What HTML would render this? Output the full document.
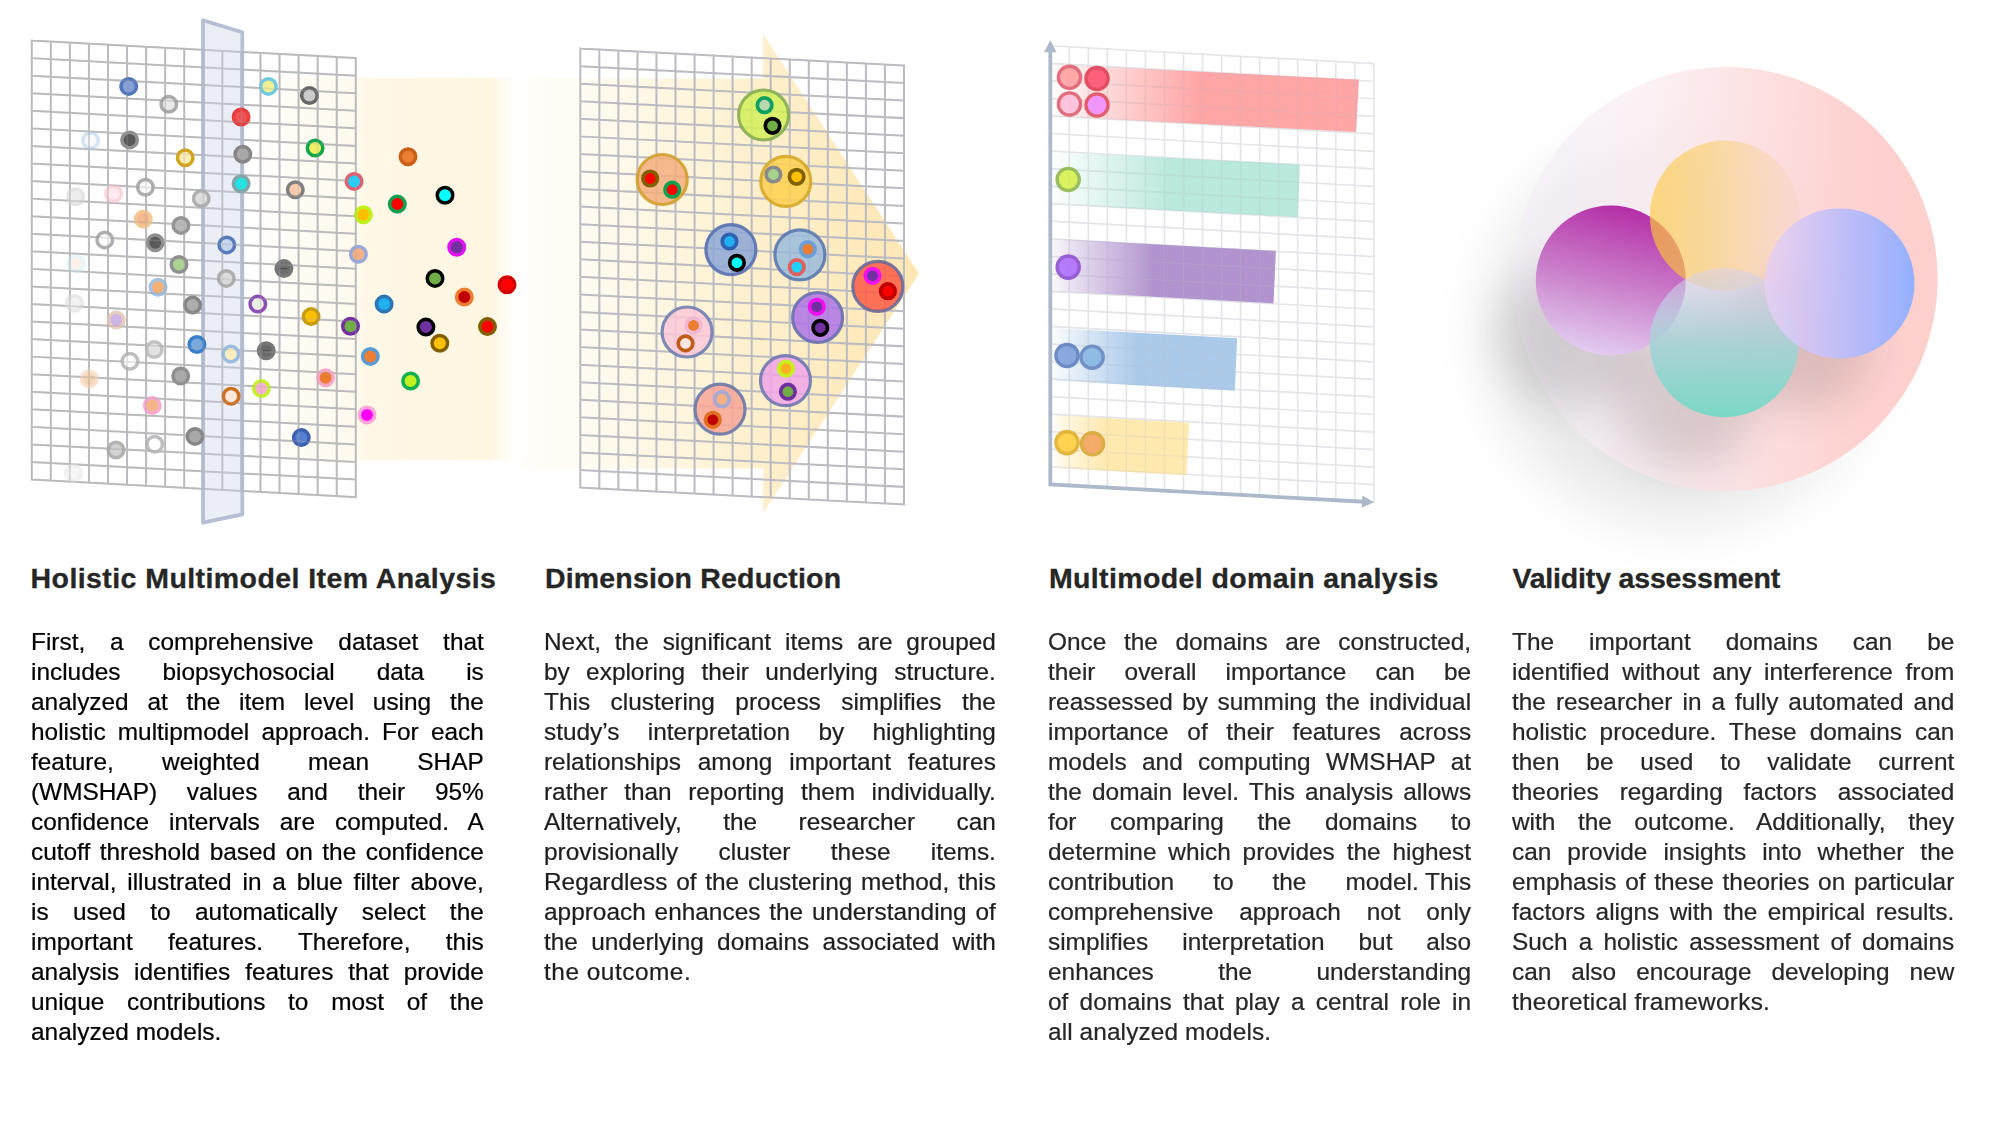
<!DOCTYPE html>
<html><head><meta charset="utf-8"><title>Holistic multimodel analysis</title>
<style>
html,body{margin:0;padding:0;background:#fff}
body{width:1992px;height:1131px;position:relative;overflow:hidden;font-family:"Liberation Sans",sans-serif}
svg{position:absolute;left:0;top:0}
.ln{-webkit-text-stroke:0.22px currentColor;position:absolute;height:30px;line-height:30px;font-size:23.7px;white-space:nowrap;text-align:justify;text-align-last:justify;transform:scaleX(1.03);transform-origin:0 0;overflow:visible}
.last{text-align:left;text-align-last:left}
.nb{display:inline-block;text-align:left;text-align-last:left}
.hd{-webkit-text-stroke:0.3px currentColor;position:absolute;height:40px;line-height:40px;font-size:28.5px;font-weight:bold;color:#262626;white-space:nowrap}
</style></head><body>
<svg width="1992" height="1131" viewBox="0 0 1992 1131">
<defs>
<linearGradient id="band1" gradientUnits="userSpaceOnUse" x1="242" y1="0" x2="518" y2="0">
 <stop offset="0" stop-color="#fff3d6" stop-opacity="0"/>
 <stop offset="0.08" stop-color="#fff3d6" stop-opacity="0.05"/>
 <stop offset="0.22" stop-color="#fff3d6" stop-opacity="0.3"/>
 <stop offset="0.41" stop-color="#fff3d6" stop-opacity="0.42"/>
 <stop offset="0.45" stop-color="#fff3d6" stop-opacity="0.6"/>
 <stop offset="0.9" stop-color="#fff2d2" stop-opacity="0.66"/>
 <stop offset="0.96" stop-color="#fff3d6" stop-opacity="0.25"/>
 <stop offset="1" stop-color="#fff3d6" stop-opacity="0"/>
</linearGradient>
<linearGradient id="band2" gradientUnits="userSpaceOnUse" x1="516" y1="0" x2="919" y2="0">
 <stop offset="0" stop-color="#ffefc8" stop-opacity="0"/>
 <stop offset="0.035" stop-color="#ffefc8" stop-opacity="0.13"/>
 <stop offset="0.16" stop-color="#ffefc8" stop-opacity="0.22"/>
 <stop offset="0.3" stop-color="#ffeec4" stop-opacity="0.4"/>
 <stop offset="0.58" stop-color="#ffe8b4" stop-opacity="0.66"/>
 <stop offset="1" stop-color="#ffe0a0" stop-opacity="0.8"/>
</linearGradient>
<linearGradient id="bar1" gradientUnits="userSpaceOnUse" x1="1050.3" y1="0" x2="1359" y2="0"><stop offset="0" stop-color="#ff8f8f" stop-opacity="0.02"/><stop offset="0.1" stop-color="#ff8f8f" stop-opacity="0.2"/><stop offset="0.48" stop-color="#ff8f8f" stop-opacity="0.8"/><stop offset="1" stop-color="#ff8f8f" stop-opacity="0.8"/></linearGradient><linearGradient id="bar2" gradientUnits="userSpaceOnUse" x1="1050.3" y1="0" x2="1299.8" y2="0"><stop offset="0" stop-color="#9fe0d0" stop-opacity="0.02"/><stop offset="0.1" stop-color="#9fe0d0" stop-opacity="0.16"/><stop offset="0.48" stop-color="#9fe0d0" stop-opacity="0.72"/><stop offset="1" stop-color="#9fe0d0" stop-opacity="0.72"/></linearGradient><linearGradient id="bar3" gradientUnits="userSpaceOnUse" x1="1050.3" y1="0" x2="1275.9" y2="0"><stop offset="0" stop-color="#a07cc4" stop-opacity="0.03"/><stop offset="0.08" stop-color="#a07cc4" stop-opacity="0.2"/><stop offset="0.46" stop-color="#a07cc4" stop-opacity="0.82"/><stop offset="1" stop-color="#a07cc4" stop-opacity="0.82"/></linearGradient><linearGradient id="bar4" gradientUnits="userSpaceOnUse" x1="1050.3" y1="0" x2="1237.2" y2="0"><stop offset="0" stop-color="#9cc0e6" stop-opacity="0.03"/><stop offset="0.1" stop-color="#9cc0e6" stop-opacity="0.22"/><stop offset="0.46" stop-color="#9cc0e6" stop-opacity="0.85"/><stop offset="1" stop-color="#9cc0e6" stop-opacity="0.85"/></linearGradient><linearGradient id="bar5" gradientUnits="userSpaceOnUse" x1="1050.3" y1="0" x2="1189.2" y2="0"><stop offset="0" stop-color="#ffe49c" stop-opacity="0"/><stop offset="0.1" stop-color="#ffe49c" stop-opacity="0.3"/><stop offset="0.4" stop-color="#ffe49c" stop-opacity="0.8"/><stop offset="1" stop-color="#ffe49c" stop-opacity="0.8"/></linearGradient>
<filter id="bl40" x="-50%" y="-50%" width="200%" height="200%"><feGaussianBlur stdDeviation="30"/></filter>
<filter id="bl25" x="-60%" y="-60%" width="220%" height="220%"><feGaussianBlur stdDeviation="21"/></filter>
<linearGradient id="big" x1="0" y1="0" x2="1" y2="0">
 <stop offset="0" stop-color="#f2edf8" stop-opacity="0.55"/>
 <stop offset="0.3" stop-color="#faedf2" stop-opacity="0.74"/>
 <stop offset="0.6" stop-color="#fddcdc" stop-opacity="0.9"/>
 <stop offset="0.8" stop-color="#fdd2d0" stop-opacity="1"/>
 <stop offset="1" stop-color="#fdcfcd" stop-opacity="1"/>
</linearGradient>
<linearGradient id="cpurple" x1="0.62" y1="0" x2="0.38" y2="1">
 <stop offset="0" stop-color="#b42ca6"/>
 <stop offset="0.5" stop-color="#c878c8" stop-opacity="0.96"/>
 <stop offset="1" stop-color="#e4cff4" stop-opacity="0.92"/>
</linearGradient>
<linearGradient id="cyellow" x1="0" y1="0" x2="1" y2="0">
 <stop offset="0" stop-color="#fdd060" stop-opacity="0.78"/>
 <stop offset="0.45" stop-color="#f9d590" stop-opacity="0.8"/>
 <stop offset="1" stop-color="#f8d6cc" stop-opacity="0.55"/>
</linearGradient>
<linearGradient id="cblue" x1="0" y1="0" x2="1" y2="0">
 <stop offset="0" stop-color="#e8d0f4" stop-opacity="0.8"/>
 <stop offset="0.5" stop-color="#c0bef8" stop-opacity="0.97"/>
 <stop offset="1" stop-color="#94b0ff"/>
</linearGradient>
<linearGradient id="cteal" x1="0" y1="0" x2="0" y2="1">
 <stop offset="0" stop-color="#d6d0ee" stop-opacity="0.5"/>
 <stop offset="0.5" stop-color="#a6d2d6" stop-opacity="0.9"/>
 <stop offset="1" stop-color="#7ad8c5"/>
</linearGradient>
<clipPath id="cpP"><circle cx="1610.8" cy="280.5" r="75"/></clipPath></defs>
<rect x="242" y="77.7" width="276" height="382.5" fill="url(#band1)"/>
<path d="M31.75 40.60V479.60M50.81 41.63V480.63M69.87 42.66V481.66M88.93 43.69V482.69M107.99 44.72V483.72M127.05 45.75V484.75M146.11 46.78V485.78M165.17 47.80V486.80M184.23 48.83V487.83M203.29 49.86V488.86M222.35 50.89V489.89M241.41 51.92V490.92M260.47 52.95V491.95M279.53 53.98V492.98M298.59 55.01V494.01M317.65 56.04V495.04M336.71 57.07V496.07M355.77 58.10V497.10M31.75 40.60L355.77 58.10M31.75 58.16L355.77 75.66M31.75 75.72L355.77 93.22M31.75 93.28L355.77 110.78M31.75 110.84L355.77 128.34M31.75 128.40L355.77 145.90M31.75 145.96L355.77 163.46M31.75 163.52L355.77 181.02M31.75 181.08L355.77 198.58M31.75 198.64L355.77 216.14M31.75 216.20L355.77 233.70M31.75 233.76L355.77 251.26M31.75 251.32L355.77 268.82M31.75 268.88L355.77 286.38M31.75 286.44L355.77 303.94M31.75 304.00L355.77 321.50M31.75 321.56L355.77 339.06M31.75 339.12L355.77 356.62M31.75 356.68L355.77 374.18M31.75 374.24L355.77 391.74M31.75 391.80L355.77 409.30M31.75 409.36L355.77 426.86M31.75 426.92L355.77 444.42M31.75 444.48L355.77 461.98M31.75 462.04L355.77 479.54M31.75 479.60L355.77 497.10" fill="none" stroke="#c1c1c4" stroke-width="2.0" stroke-linecap="square" opacity="1"/>
<path d="M203 20.2L242.3 32.2V514.4L203 522.6Z" fill="#d2dae8" fill-opacity="0.45" stroke="#b4bfd4" stroke-width="3.7" stroke-linejoin="round"/>
<circle cx="128.7" cy="86.4" r="7.75" fill="#7f9ad8" stroke="#4a6fb8" stroke-width="3.5" opacity="0.95"/>
<circle cx="168.8" cy="104.3" r="7.75" fill="#e6e6e6" stroke="#9c9c9c" stroke-width="3.5" opacity="0.85"/>
<circle cx="241.1" cy="117.0" r="7.75" fill="#f24a4a" stroke="#e63535" stroke-width="3.5" opacity="0.95"/>
<circle cx="90.5" cy="140.4" r="7.75" fill="#f2f6fb" stroke="#b9d0ea" stroke-width="3.5" opacity="0.6"/>
<circle cx="129.6" cy="139.9" r="7.75" fill="#505050" stroke="#8a8a8a" stroke-width="3.5" opacity="0.95"/>
<circle cx="185.2" cy="157.8" r="7.75" fill="#fdeeb4" stroke="#d1a51c" stroke-width="3.5"/>
<circle cx="242.8" cy="154.2" r="7.75" fill="#a8a8a8" stroke="#858585" stroke-width="3.5"/>
<circle cx="241.1" cy="183.8" r="7.75" fill="#1fe6e6" stroke="#7fa5a8" stroke-width="3.5"/>
<circle cx="145.4" cy="187.2" r="7.75" fill="#ffffff" stroke="#a6a6a6" stroke-width="3.5" opacity="0.9"/>
<circle cx="75.7" cy="196.7" r="7.75" fill="#e6e6e6" stroke="#d9d9d9" stroke-width="3.5" opacity="0.7"/>
<circle cx="113.6" cy="193.8" r="7.75" fill="#fde6ea" stroke="#f7ccd2" stroke-width="3.5" opacity="0.8"/>
<circle cx="201.2" cy="198.6" r="7.75" fill="#dcdcdc" stroke="#ababab" stroke-width="3.5" opacity="0.95"/>
<circle cx="143.2" cy="219.1" r="7.75" fill="#f4b183" stroke="#f4c48c" stroke-width="3.5" opacity="0.9"/>
<circle cx="181.0" cy="225.4" r="7.75" fill="#b8b8b8" stroke="#949494" stroke-width="3.5"/>
<circle cx="104.8" cy="239.9" r="7.75" fill="#ffffff" stroke="#a6a6a6" stroke-width="3.5" opacity="0.9"/>
<circle cx="155.2" cy="242.8" r="7.75" fill="#525252" stroke="#8a8a8a" stroke-width="3.5" opacity="0.95"/>
<circle cx="226.8" cy="244.9" r="7.75" fill="#c7d6ee" stroke="#5779bd" stroke-width="3.5"/>
<circle cx="179.0" cy="264.5" r="7.75" fill="#a9d18e" stroke="#8a8a8a" stroke-width="3.5" opacity="0.95"/>
<circle cx="76.4" cy="263.8" r="7.75" fill="#fde7dc" stroke="#d3eef4" stroke-width="3.5" opacity="0.55"/>
<circle cx="226.3" cy="278.4" r="7.75" fill="#dcdcdc" stroke="#ababab" stroke-width="3.5" opacity="0.95"/>
<circle cx="158.0" cy="287.2" r="7.75" fill="#f4a868" stroke="#9bbce0" stroke-width="3.5" opacity="0.9"/>
<circle cx="192.6" cy="305.1" r="7.75" fill="#adadad" stroke="#858585" stroke-width="3.5"/>
<circle cx="257.8" cy="304.1" r="7.75" fill="#e9f0e2" stroke="#8c4db6" stroke-width="3.5"/>
<circle cx="74.5" cy="303.4" r="7.75" fill="#ededed" stroke="#e0e0e0" stroke-width="3.5" opacity="0.7"/>
<circle cx="116.3" cy="320.1" r="7.75" fill="#c4a7e0" stroke="#e6c6b6" stroke-width="3.5" opacity="0.85"/>
<circle cx="196.9" cy="344.5" r="7.75" fill="#7aa8dc" stroke="#3a7fcb" stroke-width="3.5"/>
<circle cx="154.2" cy="349.5" r="7.75" fill="#e0e0e0" stroke="#bdbdbd" stroke-width="3.5" opacity="0.9"/>
<circle cx="230.8" cy="354.0" r="7.75" fill="#fdeec2" stroke="#9bbcde" stroke-width="3.5"/>
<circle cx="266.2" cy="350.7" r="7.75" fill="#6a6a6a" stroke="#777777" stroke-width="3.5"/>
<circle cx="129.9" cy="361.2" r="7.75" fill="#ffffff" stroke="#b8b8b8" stroke-width="3.5" opacity="0.9"/>
<circle cx="180.7" cy="376.0" r="7.75" fill="#aaaaaa" stroke="#8f8f8f" stroke-width="3.5"/>
<circle cx="89.3" cy="378.9" r="7.75" fill="#f5c8a0" stroke="#f7d8bc" stroke-width="3.5" opacity="0.75"/>
<circle cx="261.4" cy="388.6" r="7.75" fill="#f8b0d0" stroke="#c6ef2e" stroke-width="3.5"/>
<circle cx="231.1" cy="396.3" r="7.75" fill="#fde8dc" stroke="#cf6f20" stroke-width="3.5"/>
<circle cx="152.3" cy="405.6" r="7.75" fill="#f4b183" stroke="#f8a6ce" stroke-width="3.5" opacity="0.95"/>
<circle cx="195.0" cy="436.4" r="7.75" fill="#a8a8a8" stroke="#868686" stroke-width="3.5"/>
<circle cx="154.7" cy="444.3" r="7.75" fill="#ffffff" stroke="#b8b8b8" stroke-width="3.5" opacity="0.9"/>
<circle cx="116.0" cy="450.0" r="7.75" fill="#cacaca" stroke="#a6a6a6" stroke-width="3.5" opacity="0.85"/>
<circle cx="73.5" cy="472.9" r="7.75" fill="#f3f3f3" stroke="#ebebeb" stroke-width="3.5" opacity="0.7"/>
<circle cx="268.4" cy="86.4" r="7.75" fill="#eff092" stroke="#6fcadf" stroke-width="3.5"/>
<circle cx="309.4" cy="95.5" r="7.75" fill="#cccccc" stroke="#666666" stroke-width="3.5"/>
<circle cx="315.1" cy="148.0" r="7.75" fill="#f0f062" stroke="#10a64e" stroke-width="3.5"/>
<circle cx="408.0" cy="156.8" r="7.75" fill="#ed7d31" stroke="#c8601a" stroke-width="3.5"/>
<circle cx="354.1" cy="181.4" r="7.75" fill="#20d0ff" stroke="#e06070" stroke-width="3.5"/>
<circle cx="295.3" cy="189.8" r="7.75" fill="#f8cbad" stroke="#7f7f7f" stroke-width="3.5"/>
<circle cx="445.0" cy="195.3" r="7.75" fill="#00ffff" stroke="#000000" stroke-width="3.5"/>
<circle cx="397.3" cy="204.1" r="7.75" fill="#ff0000" stroke="#10a050" stroke-width="3.5"/>
<circle cx="363.4" cy="214.8" r="7.75" fill="#ffc000" stroke="#c0f020" stroke-width="3.5"/>
<circle cx="456.7" cy="247.3" r="7.75" fill="#7030a0" stroke="#e010f0" stroke-width="3.5"/>
<circle cx="358.4" cy="254.2" r="7.75" fill="#f4b183" stroke="#9aa8d8" stroke-width="3.5"/>
<circle cx="283.9" cy="268.6" r="7.75" fill="#6e6e6e" stroke="#777777" stroke-width="3.5"/>
<circle cx="435.0" cy="278.4" r="7.75" fill="#70ad47" stroke="#000000" stroke-width="3.5"/>
<circle cx="507.0" cy="284.8" r="7.75" fill="#ff0000" stroke="#d20000" stroke-width="3.5"/>
<circle cx="464.3" cy="297.0" r="7.75" fill="#c00000" stroke="#ed7d31" stroke-width="3.5"/>
<circle cx="384.1" cy="304.1" r="7.75" fill="#20b0f0" stroke="#2e75b6" stroke-width="3.5"/>
<circle cx="311.1" cy="316.6" r="7.75" fill="#ffc000" stroke="#c89c10" stroke-width="3.5"/>
<circle cx="350.5" cy="326.3" r="7.75" fill="#70ad47" stroke="#7030a0" stroke-width="3.5"/>
<circle cx="425.9" cy="327.1" r="7.75" fill="#7030a0" stroke="#000000" stroke-width="3.5"/>
<circle cx="487.5" cy="326.6" r="7.75" fill="#ff0000" stroke="#806000" stroke-width="3.5"/>
<circle cx="439.8" cy="343.3" r="7.75" fill="#ffc000" stroke="#806000" stroke-width="3.5"/>
<circle cx="370.3" cy="356.4" r="7.75" fill="#ed7d31" stroke="#5b9bd5" stroke-width="3.5"/>
<circle cx="325.6" cy="377.7" r="7.75" fill="#ed7d31" stroke="#f8a8c8" stroke-width="3.5"/>
<circle cx="410.6" cy="381.0" r="7.75" fill="#c0f020" stroke="#10b050" stroke-width="3.5"/>
<circle cx="367.0" cy="414.9" r="7.75" fill="#ff00ff" stroke="#f8a8d8" stroke-width="3.5"/>
<circle cx="301.3" cy="437.6" r="7.75" fill="#5580d0" stroke="#3b60b0" stroke-width="3.5"/>
<path d="M31.75 40.60V479.60M50.81 41.63V480.63M69.87 42.66V481.66M88.93 43.69V482.69M107.99 44.72V483.72M127.05 45.75V484.75M146.11 46.78V485.78M165.17 47.80V486.80M184.23 48.83V487.83M203.29 49.86V488.86M222.35 50.89V489.89M241.41 51.92V490.92M260.47 52.95V491.95M279.53 53.98V492.98M298.59 55.01V494.01M317.65 56.04V495.04M336.71 57.07V496.07M355.77 58.10V497.10M31.75 40.60L355.77 58.10M31.75 58.16L355.77 75.66M31.75 75.72L355.77 93.22M31.75 93.28L355.77 110.78M31.75 110.84L355.77 128.34M31.75 128.40L355.77 145.90M31.75 145.96L355.77 163.46M31.75 163.52L355.77 181.02M31.75 181.08L355.77 198.58M31.75 198.64L355.77 216.14M31.75 216.20L355.77 233.70M31.75 233.76L355.77 251.26M31.75 251.32L355.77 268.82M31.75 268.88L355.77 286.38M31.75 286.44L355.77 303.94M31.75 304.00L355.77 321.50M31.75 321.56L355.77 339.06M31.75 339.12L355.77 356.62M31.75 356.68L355.77 374.18M31.75 374.24L355.77 391.74M31.75 391.80L355.77 409.30M31.75 409.36L355.77 426.86M31.75 426.92L355.77 444.42M31.75 444.48L355.77 461.98M31.75 462.04L355.77 479.54M31.75 479.60L355.77 497.10" fill="none" stroke="#a9a9ad" stroke-width="1.6" stroke-linecap="square" opacity="0.28"/>
<path d="M262.7 350.7h7" stroke="#4d4d4d" stroke-width="1.2"/>
<path d="M280.4 268.6h7" stroke="#4d4d4d" stroke-width="1.2"/>
<path d="M516 78.5H763.2V34.3L919 273.5L763.2 513.2V468.5H516Z" fill="url(#band2)"/>
<path d="M580.30 48.60V487.60M599.34 49.59V488.59M618.38 50.58V489.58M637.42 51.57V490.57M656.46 52.56V491.56M675.50 53.55V492.55M694.54 54.54V493.54M713.58 55.53V494.53M732.62 56.52V495.52M751.66 57.51V496.51M770.70 58.50V497.50M789.74 59.49V498.49M808.78 60.48V499.48M827.82 61.47V500.47M846.86 62.46V501.46M865.90 63.45V502.45M884.94 64.44V503.44M903.98 65.43V504.43M580.30 48.60L903.98 65.43M580.30 66.16L903.98 82.99M580.30 83.72L903.98 100.55M580.30 101.28L903.98 118.11M580.30 118.84L903.98 135.67M580.30 136.40L903.98 153.23M580.30 153.96L903.98 170.79M580.30 171.52L903.98 188.35M580.30 189.08L903.98 205.91M580.30 206.64L903.98 223.47M580.30 224.20L903.98 241.03M580.30 241.76L903.98 258.59M580.30 259.32L903.98 276.15M580.30 276.88L903.98 293.71M580.30 294.44L903.98 311.27M580.30 312.00L903.98 328.83M580.30 329.56L903.98 346.39M580.30 347.12L903.98 363.95M580.30 364.68L903.98 381.51M580.30 382.24L903.98 399.07M580.30 399.80L903.98 416.63M580.30 417.36L903.98 434.19M580.30 434.92L903.98 451.75M580.30 452.48L903.98 469.31M580.30 470.04L903.98 486.87M580.30 487.60L903.98 504.43" fill="none" stroke="#bbbcc2" stroke-width="2.05" stroke-linecap="square" opacity="1"/>
<circle cx="763.6" cy="115.0" r="25.0" fill="#d3f05a" fill-opacity="0.85" stroke="#86ad52" stroke-opacity="0.9" stroke-width="3.2"/>
<circle cx="764.6" cy="105.2" r="7.25" fill="#b8d8b0" stroke="#10a060" stroke-width="3.7"/>
<circle cx="772.5" cy="125.8" r="7.25" fill="#70ad47" stroke="#000" stroke-width="3.7"/>
<circle cx="662.2" cy="179.5" r="25.0" fill="#f4ae7e" fill-opacity="0.85" stroke="#d3a02e" stroke-opacity="0.9" stroke-width="3.2"/>
<circle cx="650.2" cy="178.5" r="7.25" fill="#ff0000" stroke="#806000" stroke-width="3.7"/>
<circle cx="672.2" cy="189.7" r="7.25" fill="#ff0000" stroke="#10a050" stroke-width="3.7"/>
<circle cx="785.8" cy="181.4" r="25.0" fill="#ffd050" fill-opacity="0.85" stroke="#d7a82a" stroke-opacity="0.9" stroke-width="3.2"/>
<circle cx="773.4" cy="174.5" r="7.25" fill="#a9d18e" stroke="#8a8a8a" stroke-width="3.7"/>
<circle cx="796.6" cy="176.8" r="7.25" fill="#ffc000" stroke="#806000" stroke-width="3.7"/>
<circle cx="730.9" cy="249.6" r="25.0" fill="#8da6d6" fill-opacity="0.85" stroke="#5671b0" stroke-opacity="0.9" stroke-width="3.2"/>
<circle cx="729.5" cy="241.5" r="7.25" fill="#20b0f0" stroke="#2e5fb0" stroke-width="3.7"/>
<circle cx="736.9" cy="262.8" r="7.25" fill="#00ffff" stroke="#000" stroke-width="3.7"/>
<circle cx="799.9" cy="254.9" r="25.0" fill="#9abbdb" fill-opacity="0.85" stroke="#5a79b0" stroke-opacity="0.9" stroke-width="3.2"/>
<circle cx="807.8" cy="249.2" r="7.25" fill="#ed7d31" stroke="#6a9fd8" stroke-width="3.7"/>
<circle cx="796.8" cy="267.1" r="7.25" fill="#20d0ff" stroke="#e06060" stroke-width="3.7"/>
<circle cx="877.8" cy="286.4" r="25.0" fill="#ff5c44" fill-opacity="0.85" stroke="#6b6a98" stroke-opacity="0.9" stroke-width="3.2"/>
<circle cx="872.5" cy="275.8" r="7.25" fill="#7030a0" stroke="#f010f0" stroke-width="3.7"/>
<circle cx="887.9" cy="291.2" r="7.25" fill="#ff0000" stroke="#c00000" stroke-width="3.7"/>
<circle cx="817.6" cy="317.5" r="25.0" fill="#ad74e6" fill-opacity="0.85" stroke="#6870b0" stroke-opacity="0.9" stroke-width="3.2"/>
<circle cx="816.8" cy="306.8" r="7.25" fill="#7030a0" stroke="#f010f0" stroke-width="3.7"/>
<circle cx="820.3" cy="327.8" r="7.25" fill="#7030a0" stroke="#000" stroke-width="3.7"/>
<circle cx="687.1" cy="332.0" r="25.0" fill="#fcc8d8" fill-opacity="0.85" stroke="#7080b0" stroke-opacity="0.9" stroke-width="3.2"/>
<circle cx="693.5" cy="325.4" r="7.25" fill="#ed7d31" stroke="#f0b8d0" stroke-width="3.7"/>
<circle cx="685.5" cy="343.4" r="7.25" fill="#fce8e0" stroke="#c05a18" stroke-width="3.7"/>
<circle cx="785.5" cy="380.6" r="25.0" fill="#f0a6e8" fill-opacity="0.85" stroke="#7078b0" stroke-opacity="0.9" stroke-width="3.2"/>
<circle cx="786.0" cy="368.6" r="7.25" fill="#ffb020" stroke="#c8f020" stroke-width="3.7"/>
<circle cx="787.9" cy="391.7" r="7.25" fill="#70ad47" stroke="#7030a0" stroke-width="3.7"/>
<circle cx="720.0" cy="409.2" r="25.0" fill="#f8a696" fill-opacity="0.85" stroke="#6878a8" stroke-opacity="0.9" stroke-width="3.2"/>
<circle cx="721.9" cy="399.2" r="7.25" fill="#f4b183" stroke="#a8a8d0" stroke-width="3.7"/>
<circle cx="712.8" cy="419.8" r="7.25" fill="#c00000" stroke="#e07020" stroke-width="3.7"/>
<path d="M1050.30 45.80V484.30M1069.33 46.85V485.35M1088.36 47.90V486.40M1107.39 48.96V487.46M1126.42 50.01V488.51M1145.45 51.06V489.56M1164.48 52.11V490.61M1183.51 53.17V491.67M1202.54 54.22V492.72M1221.57 55.27V493.77M1240.60 56.32V494.82M1259.63 57.38V495.88M1278.66 58.43V496.93M1297.69 59.48V497.98M1316.72 60.53V499.03M1335.75 61.59V500.09M1354.78 62.64V501.14M1373.81 63.69V502.19M1050.30 45.80L1373.81 63.69M1050.30 63.34L1373.81 81.23M1050.30 80.88L1373.81 98.77M1050.30 98.42L1373.81 116.31M1050.30 115.96L1373.81 133.85M1050.30 133.50L1373.81 151.39M1050.30 151.04L1373.81 168.93M1050.30 168.58L1373.81 186.47M1050.30 186.12L1373.81 204.01M1050.30 203.66L1373.81 221.55M1050.30 221.20L1373.81 239.09M1050.30 238.74L1373.81 256.63M1050.30 256.28L1373.81 274.17M1050.30 273.82L1373.81 291.71M1050.30 291.36L1373.81 309.25M1050.30 308.90L1373.81 326.79M1050.30 326.44L1373.81 344.33M1050.30 343.98L1373.81 361.87M1050.30 361.52L1373.81 379.41M1050.30 379.06L1373.81 396.95M1050.30 396.60L1373.81 414.49M1050.30 414.14L1373.81 432.03M1050.30 431.68L1373.81 449.57M1050.30 449.22L1373.81 467.11M1050.30 466.76L1373.81 484.65M1050.30 484.30L1373.81 502.19" fill="none" stroke="#ebebee" stroke-width="1.7" stroke-linecap="square" opacity="1"/>
<path d="M1050.3 64.2L1359 79.6L1356.1 132.1L1050.3 115.9Z" fill="url(#bar1)"/>
<path d="M1050.3 151.9L1299.8 164.5L1297.8 217.0L1050.3 204.0Z" fill="url(#bar2)"/>
<path d="M1050.3 238.5L1275.9 250.9L1273.5 303.4L1050.3 291.1Z" fill="url(#bar3)"/>
<path d="M1050.3 327.9L1237.2 338.2L1234.8 390.8L1050.3 380.5Z" fill="url(#bar4)"/>
<path d="M1050.3 415.1L1189.2 422.8L1186.4 475.3L1050.3 467.8Z" fill="url(#bar5)"/>
<path d="M1050.30 45.80V484.30M1069.33 46.85V485.35M1088.36 47.90V486.40M1107.39 48.96V487.46M1126.42 50.01V488.51M1145.45 51.06V489.56M1164.48 52.11V490.61M1183.51 53.17V491.67M1202.54 54.22V492.72M1221.57 55.27V493.77M1240.60 56.32V494.82M1259.63 57.38V495.88M1278.66 58.43V496.93M1297.69 59.48V497.98M1316.72 60.53V499.03M1335.75 61.59V500.09M1354.78 62.64V501.14M1373.81 63.69V502.19M1050.30 45.80L1373.81 63.69M1050.30 63.34L1373.81 81.23M1050.30 80.88L1373.81 98.77M1050.30 98.42L1373.81 116.31M1050.30 115.96L1373.81 133.85M1050.30 133.50L1373.81 151.39M1050.30 151.04L1373.81 168.93M1050.30 168.58L1373.81 186.47M1050.30 186.12L1373.81 204.01M1050.30 203.66L1373.81 221.55M1050.30 221.20L1373.81 239.09M1050.30 238.74L1373.81 256.63M1050.30 256.28L1373.81 274.17M1050.30 273.82L1373.81 291.71M1050.30 291.36L1373.81 309.25M1050.30 308.90L1373.81 326.79M1050.30 326.44L1373.81 344.33M1050.30 343.98L1373.81 361.87M1050.30 361.52L1373.81 379.41M1050.30 379.06L1373.81 396.95M1050.30 396.60L1373.81 414.49M1050.30 414.14L1373.81 432.03M1050.30 431.68L1373.81 449.57M1050.30 449.22L1373.81 467.11M1050.30 466.76L1373.81 484.65M1050.30 484.30L1373.81 502.19" fill="none" stroke="#c9ced6" stroke-width="1.2" stroke-linecap="square" opacity="0.22"/>
<path d="M1050.3 50V484.4L1364 501.75" fill="none" stroke="#adb9cb" stroke-width="3.8" stroke-linejoin="miter"/>
<path d="M1050.3 40.2L1056.6 52.2H1044Z" fill="#adb9cb"/>
<path d="M1374 502.3L1361.7 507.8L1362.4 495.4Z" fill="#adb9cb"/>
<circle cx="1069.5" cy="77.3" r="11.1" fill="#ffa2a2" stroke="#df6070" stroke-width="3.4" opacity="0.9"/>
<circle cx="1097.0" cy="78.5" r="11.1" fill="#ff5270" stroke="#e04055" stroke-width="3.4" opacity="0.9"/>
<circle cx="1069.5" cy="104" r="11.1" fill="#fcc0dc" stroke="#df6070" stroke-width="3.4" opacity="0.9"/>
<circle cx="1097.0" cy="105.0" r="11.1" fill="#f090ff" stroke="#e05060" stroke-width="3.4" opacity="0.9"/>
<circle cx="1068.2" cy="179.5" r="11.1" fill="#d8f050" stroke="#90b850" stroke-width="3.4" opacity="0.9"/>
<circle cx="1068.2" cy="267.1" r="11.1" fill="#b070ff" stroke="#9050d0" stroke-width="3.4" opacity="0.9"/>
<circle cx="1067" cy="355.5" r="11.1" fill="#80a0dc" stroke="#6080c0" stroke-width="3.4" opacity="0.9"/>
<circle cx="1092.1" cy="357.2" r="11.1" fill="#88b8e4" stroke="#6888c0" stroke-width="3.4" opacity="0.9"/>
<circle cx="1067" cy="442.6" r="11.1" fill="#ffd040" stroke="#e0b030" stroke-width="3.4" opacity="0.9"/>
<circle cx="1092.5" cy="443.8" r="11.1" fill="#f4a460" stroke="#d8a838" stroke-width="3.4" opacity="0.9"/>
<circle cx="1681.6" cy="329" r="194" fill="#000" opacity="0.09" filter="url(#bl40)"/>
<circle cx="1725.6" cy="279" r="212" fill="url(#big)"/>
<circle cx="1570.8" cy="334.5" r="71" fill="#2a1c22" opacity="0.145" filter="url(#bl25)"/>
<circle cx="1684.2" cy="396.7" r="70.5" fill="#2a1c22" opacity="0.145" filter="url(#bl25)"/>
<circle cx="1799.5" cy="337.4" r="71" fill="#2a1c22" opacity="0.145" filter="url(#bl25)"/>
<circle cx="1610.8" cy="280.5" r="75" fill="url(#cpurple)"/>
<circle cx="1724.9" cy="215.6" r="75" fill="url(#cyellow)"/>
<circle cx="1724.9" cy="215.6" r="75" fill="#dc7a3c" opacity="0.38" clip-path="url(#cpP)"/>
<circle cx="1724.2" cy="342.7" r="74.5" fill="url(#cteal)"/>
<circle cx="1839.5" cy="283.4" r="75" fill="url(#cblue)"/>
</svg>
<div class="ln" style="left:31.4px;top:627.1px;width:439.61px;color:#000">First, a comprehensive dataset that</div>
<div class="ln" style="left:31.4px;top:657.1px;width:439.61px;color:#000">includes biopsychosocial data is</div>
<div class="ln" style="left:31.4px;top:687.1px;width:439.61px;color:#000">analyzed at the item level using the</div>
<div class="ln" style="left:31.4px;top:717.1px;width:439.61px;color:#000">holistic multipmodel approach. For each</div>
<div class="ln" style="left:31.4px;top:747.1px;width:439.61px;color:#000">feature, weighted mean SHAP</div>
<div class="ln" style="left:31.4px;top:777.1px;width:439.61px;color:#000">(WMSHAP) values and their 95%</div>
<div class="ln" style="left:31.4px;top:807.1px;width:439.61px;color:#000">confidence intervals are computed. A</div>
<div class="ln" style="left:31.4px;top:837.1px;width:439.61px;color:#000">cutoff threshold based on the confidence</div>
<div class="ln" style="left:31.4px;top:867.1px;width:439.61px;color:#000">interval, illustrated in a blue filter above,</div>
<div class="ln" style="left:31.4px;top:897.1px;width:439.61px;color:#000">is used to automatically select the</div>
<div class="ln" style="left:31.4px;top:927.1px;width:439.61px;color:#000">important features. Therefore, this</div>
<div class="ln" style="left:31.4px;top:957.1px;width:439.61px;color:#000">analysis identifies features that provide</div>
<div class="ln" style="left:31.4px;top:987.1px;width:439.61px;color:#000">unique contributions to most of the</div>
<div class="ln last" style="left:31.4px;top:1017.1px;letter-spacing:0.03px;color:#000">analyzed models.</div>
<div class="ln" style="left:543.7px;top:627.0px;width:438.74px;color:#1e1e1e">Next, the significant items are grouped</div>
<div class="ln" style="left:543.7px;top:657.0px;width:438.74px;color:#1e1e1e">by exploring their underlying structure.</div>
<div class="ln" style="left:543.7px;top:687.0px;width:438.74px;color:#1e1e1e">This clustering process simplifies the</div>
<div class="ln" style="left:543.7px;top:717.0px;width:438.74px;color:#1e1e1e">study’s interpretation by highlighting</div>
<div class="ln" style="left:543.7px;top:747.0px;width:438.74px;color:#1e1e1e">relationships among important features</div>
<div class="ln" style="left:543.7px;top:777.0px;width:438.74px;color:#1e1e1e">rather than reporting them individually.</div>
<div class="ln" style="left:543.7px;top:807.0px;width:438.74px;color:#1e1e1e">Alternatively, the researcher can</div>
<div class="ln" style="left:543.7px;top:837.0px;width:438.74px;color:#1e1e1e">provisionally cluster these items.</div>
<div class="ln" style="left:543.7px;top:867.0px;width:438.74px;color:#1e1e1e">Regardless of the clustering method, this</div>
<div class="ln" style="left:543.7px;top:897.0px;width:438.74px;color:#1e1e1e">approach enhances the understanding of</div>
<div class="ln" style="left:543.7px;top:927.0px;width:438.74px;color:#1e1e1e">the underlying domains associated with</div>
<div class="ln last" style="left:543.7px;top:957.0px;letter-spacing:0.5px;color:#1e1e1e">the outcome.</div>
<div class="ln" style="left:1048.1px;top:627.0px;width:410.78px;color:#262626">Once the domains are constructed,</div>
<div class="ln" style="left:1048.1px;top:657.0px;width:410.78px;color:#262626">their overall importance can be</div>
<div class="ln" style="left:1048.1px;top:687.0px;width:410.78px;color:#262626">reassessed by summing the individual</div>
<div class="ln" style="left:1048.1px;top:717.0px;width:410.78px;color:#262626">importance of their features across</div>
<div class="ln" style="left:1048.1px;top:747.0px;width:410.78px;color:#262626">models and computing WMSHAP at</div>
<div class="ln" style="left:1048.1px;top:777.0px;width:410.78px;color:#262626">the domain level. This analysis allows</div>
<div class="ln" style="left:1048.1px;top:807.0px;width:410.78px;color:#262626">for comparing the domains to</div>
<div class="ln" style="left:1048.1px;top:837.0px;width:410.78px;color:#262626">determine which provides the highest</div>
<div class="ln" style="left:1048.1px;top:867.0px;width:410.78px;color:#262626">contribution to the <span class="nb">model. This</span></div>
<div class="ln" style="left:1048.1px;top:897.0px;width:410.78px;color:#262626">comprehensive approach not only</div>
<div class="ln" style="left:1048.1px;top:927.0px;width:410.78px;color:#262626">simplifies interpretation but also</div>
<div class="ln" style="left:1048.1px;top:957.0px;width:410.78px;color:#262626">enhances the understanding</div>
<div class="ln" style="left:1048.1px;top:987.0px;width:410.78px;color:#262626">of domains that play a central role in</div>
<div class="ln last" style="left:1048.1px;top:1017.0px;letter-spacing:0.1px;color:#262626">all analyzed models.</div>
<div class="ln" style="left:1511.9px;top:626.8px;width:429.42px;color:#262626">The important domains can be</div>
<div class="ln" style="left:1511.9px;top:656.8px;width:429.42px;color:#262626">identified without any interference from</div>
<div class="ln" style="left:1511.9px;top:686.8px;width:429.42px;color:#262626">the researcher in a fully automated and</div>
<div class="ln" style="left:1511.9px;top:716.8px;width:429.42px;color:#262626">holistic procedure. These domains can</div>
<div class="ln" style="left:1511.9px;top:746.8px;width:429.42px;color:#262626">then be used to validate current</div>
<div class="ln" style="left:1511.9px;top:776.8px;width:429.42px;color:#262626">theories regarding factors associated</div>
<div class="ln" style="left:1511.9px;top:806.8px;width:429.42px;color:#262626">with the outcome. Additionally, they</div>
<div class="ln" style="left:1511.9px;top:836.8px;width:429.42px;color:#262626">can provide insights into whether the</div>
<div class="ln" style="left:1511.9px;top:866.8px;width:429.42px;color:#262626">emphasis of these theories on particular</div>
<div class="ln" style="left:1511.9px;top:896.8px;width:429.42px;color:#262626">factors aligns with the empirical results.</div>
<div class="ln" style="left:1511.9px;top:926.8px;width:429.42px;color:#262626">Such a holistic assessment of domains</div>
<div class="ln" style="left:1511.9px;top:956.8px;width:429.42px;color:#262626">can also encourage developing new</div>
<div class="ln last" style="left:1511.9px;top:986.8px;letter-spacing:0.25px;color:#262626">theoretical frameworks.</div>
<div class="hd" style="left:30.6px;top:557.6px;letter-spacing:0.42px">Holistic Multimodel Item Analysis</div>
<div class="hd" style="left:544.9px;top:557.6px;letter-spacing:0.18px">Dimension Reduction</div>
<div class="hd" style="left:1048.9px;top:557.6px;letter-spacing:0.38px">Multimodel domain analysis</div>
<div class="hd" style="left:1512.4px;top:557.6px;letter-spacing:-0.17px">Validity assessment</div>
</body></html>
